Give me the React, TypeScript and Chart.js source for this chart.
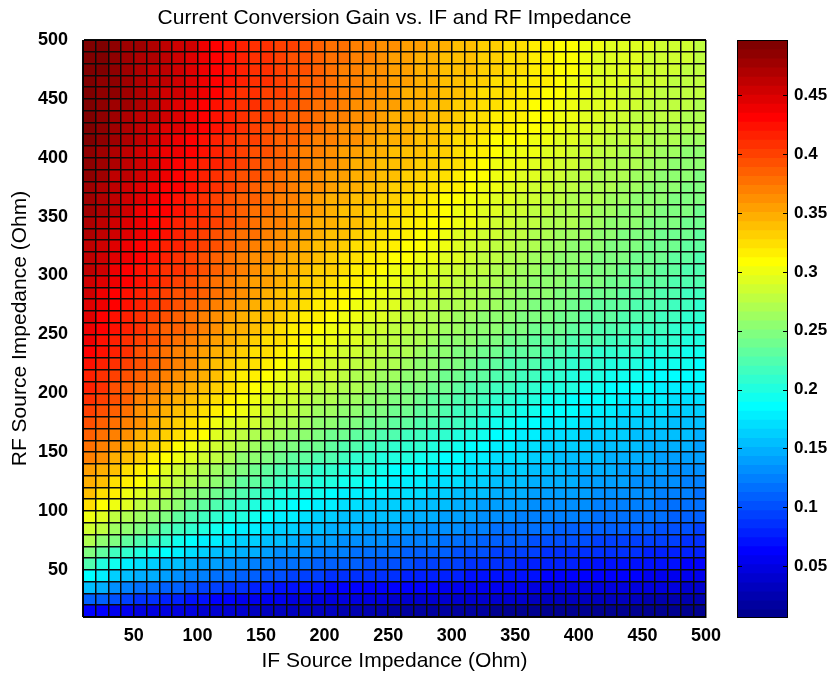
import React, { useEffect, useRef } from "react";
import { Chart, registerables } from "chart.js";

Chart.register(...registerables);

const titleText = "Current Conversion Gain vs. IF and RF Impedance";
const xTitle = "IF Source Impedance (Ohm)";
const yTitle = "RF Source Impedance (Ohm)";

// grid vertices (Ohm)
const ifOhm = [10,20,30,40,50,60,70,80,90,100,110,120,130,140,150,160,170,180,190,200,210,220,230,240,250,260,270,280,290,300,310,320,330,340,350,360,370,380,390,400,410,420,430,440,450,460,470,480,490,500];
const rfOhm = [10,20,30,40,50,60,70,80,90,100,110,120,130,140,150,160,170,180,190,200,210,220,230,240,250,260,270,280,290,300,310,320,330,340,350,360,370,380,390,400,410,420,430,440,450,460,470,480,490,500];
const xTickValues = [50,100,150,200,250,300,350,400,450,500];
const yTickValues = [50,100,150,200,250,300,350,400,450,500];
const colorbarTicks = [0.05,0.1,0.15,0.2,0.25,0.3,0.35,0.4,0.45];

// gain per RF row (bottom row first), one value per IF cell
const g00 = [0.063,0.060,0.058,0.055,0.052,0.050,0.049,0.047,0.045,0.043,0.041,0.039,0.037,0.036,0.036,0.035,0.034,0.033,0.031,0.030,0.028,0.026,0.025,0.023,0.021,0.020,0.019,0.018,0.017,0.016,0.015,0.014,0.013,0.013,0.012,0.012,0.011,0.011,0.011,0.010,0.010,0.010,0.009,0.009,0.008,0.008,0.007,0.007,0.006];
const g01 = [0.113,0.107,0.102,0.096,0.090,0.086,0.082,0.078,0.074,0.070,0.067,0.063,0.059,0.057,0.056,0.054,0.052,0.051,0.050,0.048,0.047,0.046,0.046,0.045,0.044,0.044,0.043,0.043,0.042,0.041,0.040,0.039,0.038,0.037,0.037,0.036,0.035,0.034,0.034,0.033,0.032,0.031,0.031,0.030,0.029,0.029,0.028,0.028,0.027];
const g02 = [0.157,0.145,0.136,0.128,0.121,0.116,0.111,0.106,0.101,0.097,0.094,0.090,0.086,0.082,0.078,0.075,0.071,0.069,0.068,0.066,0.064,0.064,0.063,0.063,0.062,0.061,0.061,0.060,0.059,0.058,0.057,0.056,0.055,0.054,0.053,0.052,0.051,0.050,0.050,0.049,0.048,0.048,0.047,0.047,0.046,0.045,0.045,0.044,0.043];
const g03 = [0.190,0.175,0.166,0.158,0.151,0.145,0.139,0.133,0.127,0.123,0.119,0.115,0.111,0.107,0.104,0.100,0.096,0.094,0.092,0.090,0.088,0.087,0.086,0.084,0.083,0.082,0.081,0.079,0.078,0.077,0.075,0.074,0.072,0.071,0.069,0.068,0.066,0.065,0.064,0.063,0.062,0.061,0.061,0.060,0.059,0.058,0.057,0.056,0.055];
const g04 = [0.221,0.205,0.192,0.181,0.172,0.165,0.158,0.153,0.148,0.144,0.140,0.136,0.132,0.128,0.125,0.121,0.117,0.115,0.113,0.111,0.109,0.107,0.105,0.103,0.101,0.099,0.097,0.096,0.094,0.092,0.090,0.088,0.086,0.084,0.082,0.080,0.078,0.077,0.076,0.075,0.074,0.073,0.072,0.071,0.070,0.069,0.068,0.067,0.066];
const g05 = [0.249,0.232,0.218,0.208,0.200,0.194,0.186,0.177,0.168,0.163,0.158,0.154,0.149,0.145,0.140,0.136,0.132,0.130,0.127,0.125,0.122,0.120,0.118,0.116,0.114,0.112,0.111,0.109,0.107,0.105,0.103,0.100,0.098,0.096,0.094,0.092,0.090,0.089,0.088,0.087,0.086,0.085,0.084,0.083,0.082,0.081,0.080,0.078,0.077];
const g06 = [0.270,0.257,0.246,0.235,0.225,0.215,0.206,0.197,0.188,0.182,0.177,0.171,0.166,0.161,0.156,0.152,0.147,0.144,0.141,0.138,0.135,0.133,0.131,0.129,0.127,0.125,0.123,0.122,0.120,0.117,0.115,0.112,0.110,0.108,0.106,0.104,0.102,0.101,0.100,0.099,0.098,0.097,0.096,0.095,0.094,0.092,0.091,0.089,0.088];
const g07 = [0.288,0.276,0.265,0.255,0.246,0.237,0.228,0.218,0.209,0.202,0.196,0.189,0.182,0.177,0.172,0.166,0.161,0.158,0.154,0.151,0.147,0.145,0.144,0.142,0.140,0.138,0.136,0.134,0.132,0.129,0.127,0.124,0.121,0.119,0.118,0.116,0.114,0.113,0.112,0.111,0.110,0.109,0.108,0.107,0.106,0.104,0.102,0.100,0.098];
const g08 = [0.305,0.293,0.282,0.272,0.264,0.254,0.245,0.236,0.228,0.220,0.213,0.205,0.198,0.191,0.185,0.180,0.175,0.170,0.166,0.162,0.159,0.157,0.155,0.153,0.152,0.150,0.148,0.146,0.144,0.141,0.138,0.135,0.132,0.130,0.128,0.126,0.125,0.124,0.123,0.122,0.121,0.120,0.119,0.118,0.117,0.115,0.112,0.110,0.108];
const g09 = [0.324,0.312,0.301,0.290,0.280,0.271,0.261,0.252,0.242,0.234,0.227,0.219,0.211,0.205,0.199,0.193,0.187,0.183,0.179,0.175,0.171,0.169,0.167,0.165,0.163,0.161,0.158,0.156,0.153,0.150,0.147,0.144,0.141,0.139,0.137,0.135,0.133,0.132,0.131,0.129,0.128,0.127,0.126,0.124,0.123,0.121,0.118,0.116,0.114];
const g10 = [0.337,0.326,0.316,0.305,0.294,0.285,0.275,0.266,0.256,0.248,0.240,0.232,0.224,0.218,0.212,0.205,0.199,0.195,0.191,0.186,0.182,0.180,0.178,0.176,0.174,0.171,0.168,0.165,0.162,0.159,0.156,0.153,0.150,0.148,0.146,0.143,0.141,0.140,0.138,0.137,0.135,0.134,0.132,0.131,0.129,0.127,0.125,0.122,0.120];
const g11 = [0.348,0.338,0.327,0.317,0.306,0.297,0.287,0.278,0.268,0.260,0.252,0.244,0.236,0.230,0.223,0.217,0.210,0.206,0.202,0.198,0.194,0.191,0.188,0.185,0.182,0.179,0.177,0.174,0.171,0.168,0.165,0.162,0.159,0.156,0.154,0.151,0.148,0.146,0.145,0.143,0.141,0.139,0.138,0.136,0.134,0.132,0.130,0.128,0.126];
const g12 = [0.358,0.350,0.339,0.328,0.317,0.307,0.297,0.288,0.279,0.271,0.263,0.255,0.248,0.240,0.233,0.227,0.221,0.217,0.213,0.209,0.205,0.201,0.198,0.194,0.190,0.187,0.184,0.182,0.179,0.175,0.172,0.169,0.166,0.164,0.161,0.158,0.155,0.153,0.151,0.150,0.148,0.146,0.144,0.142,0.140,0.138,0.136,0.134,0.132];
const g13 = [0.369,0.359,0.349,0.339,0.329,0.320,0.310,0.301,0.292,0.284,0.276,0.267,0.259,0.253,0.246,0.240,0.233,0.229,0.225,0.221,0.217,0.213,0.209,0.205,0.201,0.198,0.195,0.192,0.189,0.185,0.182,0.178,0.174,0.171,0.168,0.164,0.161,0.159,0.157,0.155,0.153,0.151,0.150,0.148,0.146,0.144,0.142,0.140,0.138];
const g14 = [0.379,0.369,0.359,0.350,0.340,0.331,0.322,0.312,0.303,0.295,0.287,0.278,0.270,0.264,0.258,0.251,0.245,0.241,0.237,0.232,0.228,0.224,0.220,0.216,0.212,0.209,0.206,0.202,0.199,0.195,0.190,0.186,0.181,0.178,0.174,0.171,0.167,0.165,0.163,0.161,0.159,0.157,0.155,0.153,0.151,0.149,0.148,0.146,0.144];
const g15 = [0.387,0.378,0.369,0.359,0.350,0.341,0.332,0.323,0.314,0.306,0.297,0.289,0.280,0.274,0.268,0.262,0.256,0.252,0.248,0.243,0.239,0.235,0.231,0.227,0.223,0.220,0.216,0.213,0.209,0.204,0.199,0.193,0.188,0.184,0.181,0.177,0.173,0.171,0.169,0.167,0.165,0.163,0.161,0.159,0.157,0.155,0.154,0.152,0.150];
const g16 = [0.394,0.386,0.377,0.368,0.359,0.350,0.341,0.332,0.324,0.314,0.305,0.297,0.290,0.283,0.276,0.271,0.267,0.263,0.259,0.254,0.250,0.246,0.242,0.238,0.234,0.230,0.226,0.222,0.219,0.214,0.209,0.202,0.196,0.192,0.188,0.184,0.179,0.177,0.175,0.173,0.171,0.169,0.167,0.165,0.163,0.161,0.159,0.157,0.155];
const g17 = [0.401,0.392,0.383,0.375,0.366,0.357,0.348,0.340,0.331,0.323,0.315,0.306,0.298,0.292,0.286,0.281,0.275,0.271,0.266,0.262,0.257,0.253,0.249,0.245,0.241,0.237,0.233,0.229,0.225,0.220,0.214,0.209,0.203,0.199,0.195,0.191,0.187,0.185,0.183,0.180,0.178,0.176,0.174,0.172,0.170,0.168,0.166,0.164,0.162];
const g18 = [0.408,0.399,0.391,0.382,0.373,0.365,0.356,0.348,0.339,0.331,0.323,0.314,0.306,0.300,0.295,0.289,0.283,0.278,0.274,0.269,0.264,0.260,0.256,0.252,0.248,0.244,0.240,0.235,0.231,0.226,0.221,0.215,0.210,0.206,0.203,0.199,0.195,0.193,0.190,0.188,0.185,0.183,0.181,0.179,0.177,0.175,0.173,0.171,0.169];
const g19 = [0.414,0.406,0.397,0.389,0.380,0.372,0.363,0.355,0.346,0.338,0.330,0.321,0.313,0.307,0.302,0.296,0.290,0.285,0.281,0.276,0.271,0.267,0.263,0.259,0.255,0.251,0.246,0.242,0.237,0.232,0.227,0.222,0.217,0.214,0.210,0.207,0.203,0.200,0.198,0.195,0.192,0.190,0.188,0.186,0.184,0.182,0.180,0.178,0.176];
const g20 = [0.420,0.412,0.403,0.395,0.386,0.378,0.370,0.361,0.353,0.345,0.337,0.328,0.320,0.314,0.309,0.303,0.297,0.292,0.288,0.283,0.278,0.274,0.270,0.265,0.261,0.257,0.252,0.248,0.243,0.238,0.234,0.229,0.224,0.221,0.218,0.214,0.211,0.208,0.205,0.202,0.199,0.197,0.195,0.192,0.190,0.188,0.187,0.185,0.183];
const g21 = [0.426,0.417,0.408,0.400,0.391,0.383,0.375,0.367,0.359,0.351,0.343,0.335,0.327,0.321,0.316,0.310,0.304,0.299,0.294,0.289,0.284,0.280,0.276,0.271,0.267,0.263,0.258,0.254,0.249,0.245,0.240,0.236,0.231,0.228,0.225,0.221,0.218,0.215,0.212,0.209,0.206,0.204,0.202,0.199,0.197,0.195,0.193,0.191,0.189];
const g22 = [0.431,0.422,0.413,0.405,0.396,0.388,0.381,0.373,0.365,0.357,0.349,0.341,0.333,0.327,0.322,0.316,0.310,0.305,0.300,0.294,0.289,0.285,0.281,0.276,0.272,0.268,0.263,0.259,0.254,0.250,0.246,0.242,0.238,0.235,0.232,0.229,0.226,0.223,0.220,0.216,0.213,0.211,0.209,0.206,0.204,0.202,0.200,0.197,0.195];
const g23 = [0.436,0.427,0.418,0.410,0.401,0.393,0.386,0.378,0.370,0.362,0.355,0.347,0.339,0.333,0.327,0.321,0.315,0.310,0.305,0.299,0.294,0.290,0.285,0.281,0.276,0.272,0.268,0.263,0.259,0.256,0.252,0.249,0.245,0.242,0.239,0.236,0.233,0.230,0.227,0.224,0.221,0.219,0.216,0.214,0.211,0.208,0.206,0.203,0.200];
const g24 = [0.440,0.430,0.421,0.413,0.405,0.397,0.389,0.382,0.375,0.367,0.359,0.351,0.344,0.338,0.331,0.325,0.320,0.314,0.309,0.303,0.298,0.293,0.289,0.284,0.280,0.276,0.272,0.268,0.264,0.261,0.258,0.255,0.252,0.249,0.246,0.243,0.240,0.237,0.234,0.231,0.228,0.225,0.222,0.220,0.217,0.214,0.211,0.208,0.205];
const g25 = [0.444,0.435,0.427,0.418,0.409,0.402,0.395,0.387,0.380,0.372,0.365,0.357,0.349,0.343,0.337,0.331,0.325,0.320,0.314,0.309,0.303,0.299,0.294,0.290,0.285,0.281,0.277,0.273,0.269,0.266,0.263,0.259,0.256,0.253,0.250,0.247,0.244,0.241,0.238,0.235,0.232,0.229,0.227,0.224,0.221,0.218,0.215,0.212,0.209];
const g26 = [0.448,0.439,0.431,0.422,0.413,0.406,0.399,0.392,0.385,0.377,0.370,0.362,0.354,0.348,0.342,0.336,0.330,0.325,0.319,0.314,0.308,0.304,0.299,0.295,0.290,0.286,0.282,0.278,0.274,0.271,0.267,0.264,0.260,0.257,0.254,0.251,0.248,0.245,0.242,0.239,0.236,0.233,0.231,0.228,0.225,0.222,0.219,0.216,0.213];
const g27 = [0.452,0.443,0.435,0.426,0.417,0.410,0.404,0.397,0.390,0.382,0.375,0.367,0.359,0.353,0.347,0.341,0.335,0.330,0.324,0.319,0.313,0.309,0.304,0.300,0.295,0.291,0.287,0.283,0.279,0.275,0.272,0.268,0.264,0.261,0.258,0.255,0.252,0.249,0.246,0.243,0.240,0.237,0.235,0.232,0.229,0.226,0.223,0.220,0.217];
const g28 = [0.456,0.447,0.439,0.430,0.421,0.414,0.408,0.401,0.394,0.387,0.379,0.372,0.364,0.358,0.352,0.346,0.340,0.335,0.329,0.324,0.318,0.314,0.309,0.305,0.300,0.296,0.292,0.288,0.284,0.280,0.276,0.272,0.268,0.265,0.262,0.259,0.256,0.253,0.250,0.247,0.244,0.241,0.239,0.236,0.233,0.230,0.227,0.224,0.221];
const g29 = [0.459,0.451,0.442,0.434,0.425,0.418,0.412,0.405,0.398,0.391,0.383,0.376,0.368,0.362,0.357,0.351,0.345,0.340,0.334,0.329,0.323,0.319,0.314,0.310,0.305,0.301,0.297,0.293,0.289,0.285,0.281,0.276,0.272,0.269,0.266,0.262,0.259,0.256,0.253,0.250,0.247,0.245,0.242,0.240,0.237,0.234,0.231,0.228,0.225];
const g30 = [0.463,0.455,0.446,0.438,0.429,0.422,0.416,0.409,0.402,0.395,0.387,0.380,0.372,0.366,0.361,0.355,0.349,0.344,0.339,0.333,0.328,0.324,0.319,0.315,0.310,0.306,0.302,0.298,0.294,0.290,0.285,0.281,0.276,0.273,0.269,0.266,0.262,0.259,0.256,0.253,0.250,0.248,0.245,0.243,0.240,0.237,0.234,0.231,0.228];
const g31 = [0.466,0.458,0.449,0.441,0.432,0.426,0.419,0.413,0.406,0.399,0.391,0.384,0.376,0.370,0.365,0.359,0.353,0.348,0.343,0.337,0.332,0.328,0.324,0.319,0.315,0.311,0.307,0.302,0.298,0.294,0.289,0.285,0.280,0.276,0.273,0.269,0.265,0.262,0.259,0.256,0.253,0.251,0.248,0.246,0.243,0.240,0.237,0.234,0.231];
const g32 = [0.470,0.461,0.452,0.444,0.436,0.429,0.422,0.416,0.409,0.402,0.395,0.388,0.381,0.375,0.369,0.363,0.357,0.352,0.347,0.341,0.336,0.332,0.328,0.324,0.320,0.315,0.311,0.306,0.302,0.297,0.293,0.288,0.284,0.280,0.276,0.272,0.268,0.265,0.262,0.260,0.257,0.254,0.251,0.249,0.246,0.243,0.240,0.237,0.234];
const g33 = [0.473,0.465,0.456,0.448,0.439,0.432,0.426,0.419,0.412,0.405,0.398,0.390,0.383,0.378,0.372,0.367,0.361,0.356,0.351,0.345,0.340,0.336,0.332,0.328,0.324,0.320,0.315,0.311,0.306,0.302,0.298,0.293,0.289,0.285,0.281,0.276,0.272,0.269,0.267,0.264,0.261,0.258,0.256,0.253,0.250,0.247,0.244,0.241,0.238];
const g34 = [0.476,0.468,0.459,0.451,0.442,0.435,0.429,0.422,0.415,0.408,0.401,0.393,0.386,0.381,0.375,0.370,0.364,0.359,0.354,0.348,0.343,0.339,0.335,0.331,0.327,0.323,0.318,0.314,0.309,0.305,0.301,0.297,0.293,0.289,0.285,0.280,0.276,0.273,0.270,0.267,0.264,0.261,0.259,0.256,0.253,0.250,0.247,0.244,0.241];
const g35 = [0.478,0.470,0.462,0.453,0.445,0.438,0.432,0.425,0.418,0.411,0.404,0.396,0.389,0.384,0.378,0.373,0.367,0.362,0.357,0.351,0.346,0.342,0.338,0.334,0.330,0.326,0.321,0.317,0.312,0.308,0.304,0.300,0.296,0.292,0.288,0.284,0.280,0.277,0.274,0.270,0.267,0.264,0.262,0.259,0.256,0.253,0.250,0.247,0.244];
const g36 = [0.480,0.472,0.464,0.456,0.448,0.441,0.435,0.428,0.421,0.414,0.407,0.399,0.392,0.387,0.381,0.376,0.370,0.365,0.360,0.354,0.349,0.345,0.341,0.337,0.333,0.329,0.326,0.322,0.318,0.313,0.309,0.304,0.299,0.295,0.292,0.288,0.284,0.281,0.278,0.274,0.271,0.268,0.265,0.262,0.259,0.256,0.253,0.250,0.247];
const g37 = [0.482,0.474,0.466,0.459,0.451,0.444,0.438,0.431,0.424,0.417,0.410,0.402,0.395,0.390,0.384,0.379,0.373,0.368,0.363,0.357,0.352,0.348,0.344,0.340,0.336,0.333,0.329,0.326,0.322,0.317,0.312,0.307,0.302,0.298,0.295,0.291,0.287,0.284,0.281,0.277,0.274,0.271,0.268,0.265,0.262,0.259,0.256,0.253,0.250];
const g38 = [0.484,0.476,0.469,0.461,0.453,0.447,0.440,0.434,0.427,0.420,0.413,0.405,0.398,0.393,0.387,0.382,0.376,0.371,0.366,0.360,0.355,0.351,0.347,0.343,0.339,0.336,0.333,0.329,0.326,0.321,0.316,0.310,0.305,0.302,0.298,0.295,0.291,0.288,0.284,0.281,0.277,0.274,0.271,0.268,0.265,0.262,0.259,0.256,0.253];
const g39 = [0.486,0.479,0.471,0.464,0.456,0.450,0.443,0.437,0.430,0.423,0.415,0.408,0.400,0.395,0.390,0.384,0.379,0.374,0.369,0.363,0.358,0.354,0.350,0.346,0.342,0.339,0.336,0.332,0.329,0.324,0.319,0.313,0.308,0.305,0.301,0.298,0.294,0.291,0.287,0.284,0.280,0.277,0.274,0.271,0.268,0.265,0.262,0.259,0.256];
const g40 = [0.490,0.482,0.475,0.467,0.460,0.453,0.447,0.440,0.434,0.427,0.419,0.412,0.404,0.399,0.394,0.389,0.384,0.379,0.374,0.369,0.364,0.360,0.356,0.351,0.347,0.344,0.340,0.337,0.333,0.328,0.323,0.317,0.312,0.309,0.306,0.303,0.300,0.296,0.293,0.289,0.285,0.282,0.279,0.276,0.273,0.271,0.268,0.266,0.263];
const g41 = [0.491,0.484,0.477,0.470,0.463,0.457,0.450,0.444,0.437,0.430,0.422,0.415,0.407,0.402,0.397,0.392,0.387,0.382,0.377,0.371,0.366,0.362,0.358,0.353,0.349,0.346,0.342,0.339,0.335,0.330,0.326,0.321,0.316,0.313,0.310,0.306,0.303,0.299,0.296,0.292,0.288,0.285,0.282,0.279,0.276,0.274,0.272,0.269,0.267];
const g42 = [0.493,0.486,0.479,0.472,0.465,0.459,0.453,0.446,0.440,0.432,0.425,0.417,0.409,0.404,0.399,0.394,0.389,0.384,0.379,0.373,0.368,0.364,0.360,0.355,0.351,0.348,0.344,0.341,0.337,0.333,0.328,0.324,0.319,0.316,0.313,0.309,0.306,0.302,0.298,0.294,0.290,0.287,0.285,0.282,0.279,0.277,0.275,0.272,0.270];
const g43 = [0.494,0.487,0.481,0.474,0.467,0.461,0.455,0.449,0.443,0.435,0.427,0.419,0.411,0.406,0.401,0.396,0.391,0.386,0.381,0.375,0.370,0.366,0.362,0.357,0.353,0.350,0.346,0.343,0.339,0.335,0.331,0.326,0.322,0.319,0.316,0.312,0.309,0.305,0.301,0.296,0.292,0.290,0.287,0.285,0.282,0.280,0.278,0.275,0.273];
const g44 = [0.495,0.489,0.482,0.476,0.469,0.463,0.457,0.451,0.445,0.437,0.429,0.420,0.412,0.407,0.403,0.398,0.393,0.388,0.382,0.377,0.371,0.367,0.363,0.359,0.355,0.351,0.348,0.344,0.340,0.336,0.332,0.328,0.324,0.321,0.318,0.314,0.311,0.307,0.302,0.298,0.293,0.291,0.289,0.286,0.284,0.282,0.280,0.277,0.275];
const g45 = [0.495,0.489,0.483,0.477,0.471,0.465,0.459,0.453,0.447,0.439,0.431,0.422,0.414,0.409,0.405,0.400,0.395,0.389,0.384,0.378,0.372,0.368,0.364,0.360,0.356,0.352,0.349,0.345,0.341,0.338,0.334,0.331,0.327,0.324,0.320,0.317,0.313,0.309,0.304,0.300,0.295,0.293,0.291,0.288,0.286,0.284,0.282,0.280,0.278];
const g46 = [0.496,0.490,0.484,0.478,0.472,0.466,0.461,0.455,0.449,0.441,0.432,0.424,0.415,0.410,0.406,0.401,0.396,0.391,0.385,0.380,0.374,0.370,0.366,0.362,0.358,0.354,0.351,0.347,0.343,0.340,0.336,0.333,0.329,0.326,0.322,0.319,0.315,0.310,0.306,0.301,0.296,0.294,0.292,0.290,0.288,0.286,0.284,0.282,0.280];
const g47 = [0.497,0.491,0.485,0.479,0.473,0.467,0.462,0.456,0.450,0.442,0.433,0.425,0.416,0.411,0.407,0.402,0.397,0.392,0.386,0.381,0.375,0.371,0.367,0.362,0.358,0.354,0.351,0.347,0.343,0.340,0.337,0.333,0.330,0.327,0.323,0.320,0.316,0.311,0.307,0.302,0.297,0.295,0.293,0.291,0.289,0.287,0.285,0.283,0.281];
const g48 = [0.497,0.491,0.486,0.480,0.474,0.468,0.463,0.457,0.451,0.442,0.433,0.425,0.417,0.412,0.408,0.403,0.398,0.392,0.386,0.381,0.375,0.371,0.367,0.363,0.359,0.355,0.352,0.348,0.344,0.341,0.337,0.334,0.331,0.327,0.324,0.320,0.317,0.312,0.307,0.303,0.298,0.296,0.294,0.292,0.290,0.288,0.286,0.284,0.282];

const gainRows = [g00,g01,g02,g03,g04,g05,g06,g07,g08,g09,g10,g11,g12,g13,g14,g15,g16,g17,g18,g19,g20,g21,g22,g23,g24,g25,g26,g27,g28,g29,g30,g31,g32,g33,g34,g35,g36,g37,g38,g39,g40,g41,g42,g43,g44,g45,g46,g47,g48];

const FONT = "'Liberation Sans', Arial, Helvetica, sans-serif";

// MATLAB-style jet colormap
function jet(m: number): number[][] {
  const n = Math.ceil(m / 4);
  const u: number[] = [];
  for (let i = 1; i <= n; i++) u.push(i / n);
  for (let i = 1; i < n; i++) u.push(1);
  for (let i = n; i >= 1; i--) u.push(i / n);
  const off = Math.ceil(n / 2) - (m % 4 === 1 ? 1 : 0);
  const J = Array.from({ length: m }, () => [0, 0, 0]);
  for (let k = 0; k < u.length; k++) {
    const g = off + k + 1;
    const r = g + n;
    const b = g - n;
    if (g >= 1 && g <= m) J[g - 1][1] = u[k];
    if (r >= 1 && r <= m) J[r - 1][0] = u[k];
    if (b >= 1 && b <= m) J[b - 1][2] = u[k];
  }
  return J;
}

const rgb = (c: number[]) =>
  `rgb(${Math.round(c[0] * 255)},${Math.round(c[1] * 255)},${Math.round(c[2] * 255)})`;

const framePlugin = {
  id: "frame",
  afterDraw(chart: any) {
    const { ctx, chartArea } = chart;
    const { left, top, right, bottom } = chartArea;
    ctx.save();
    ctx.strokeStyle = "#000";
    ctx.lineWidth = 1;
    ctx.strokeRect(Math.round(left) + 0.5, Math.round(top) + 0.5, Math.round(right - left) - 1, Math.round(bottom - top) - 1);
    ctx.restore();
  },
};

const titlePlugin = {
  id: "plotTitle",
  afterDraw(chart: any) {
    const { ctx, chartArea } = chart;
    ctx.save();
    ctx.font = `normal 21px ${FONT}`;
    ctx.fillStyle = "#000";
    ctx.textAlign = "center";
    ctx.textBaseline = "middle";
    ctx.fillText(titleText, (chartArea.left + chartArea.right) / 2, chartArea.top - 22);
    ctx.restore();
  },
};

const cbTickPlugin = {
  id: "cbticks",
  afterDatasetsDraw(chart: any) {
    const { ctx, chartArea } = chart;
    const s = chart.scales.y;
    ctx.save();
    ctx.strokeStyle = "#000";
    ctx.lineWidth = 1;
    for (const v of colorbarTicks) {
      const y = Math.round(s.getPixelForValue(v)) + 0.5;
      ctx.beginPath();
      ctx.moveTo(chartArea.left, y);
      ctx.lineTo(chartArea.left + 5, y);
      ctx.moveTo(chartArea.right - 5, y);
      ctx.lineTo(chartArea.right, y);
      ctx.stroke();
    }
    ctx.restore();
  },
};

export default function App() {
  const mainRef = useRef<HTMLCanvasElement | null>(null);
  const cbRef = useRef<HTMLCanvasElement | null>(null);

  useEffect(() => {
    Chart.defaults.font.family = FONT;
    const flat = gainRows.flat();
    const vmin = Math.min(...flat);
    const vmax = Math.max(...flat);
    const cmap = jet(64);
    const toColor = (v: number) => {
      let k = Math.floor(((v - vmin) / (vmax - vmin)) * 64);
      if (k < 0) k = 0;
      if (k > 63) k = 63;
      return rgb(cmap[k]);
    };

    const datasets = gainRows.map((row, r) => ({
      label: `RF ${rfOhm[r]}`,
      data: row.map((v, i) => ({ x: (ifOhm[i] + ifOhm[i + 1]) / 2, y: [rfOhm[r], rfOhm[r + 1]], v })),
      backgroundColor: row.map(toColor),
      borderWidth: 0,
      borderSkipped: false,
      inflateAmount: 0.5,
    }));

    const edgeGrid = { display: true, drawOnChartArea: true, drawTicks: false, color: "#0a0a0a", lineWidth: 1.5, z: 1 };

    const main = new Chart(mainRef.current as HTMLCanvasElement, {
      type: "bar",
      data: { datasets } as any,
      options: {
        responsive: false,
        animation: false,
        events: [],
        layout: { padding: { left: 0, right: 124, top: 40, bottom: 0 } },
        datasets: { bar: { barPercentage: 1, categoryPercentage: 1, grouped: false } } as any,
        plugins: {
          legend: { display: false },
          tooltip: { enabled: false },
          title: { display: false },
        },
        scales: {
          x: {
            type: "linear",
            min: ifOhm[0],
            max: ifOhm[ifOhm.length - 1],
            offset: false,
            grid: { ...edgeGrid, offset: false },
            border: { display: true, color: "#000", width: 1, z: 1 },
            ticks: {
              color: "#000",
              font: { family: FONT, size: 18, weight: "bold" },
              padding: 8,
              maxRotation: 0,
              autoSkip: false,
              callback: (v: any) => (xTickValues.includes(v) ? String(v) : ""),
            },
            afterBuildTicks: (s: any) => {
              s.ticks = ifOhm.map((v) => ({ value: v }));
            },
            afterFit: (s: any) => {
              s.height = 57;
            },
            title: {
              display: true,
              text: xTitle,
              color: "#000",
              font: { family: FONT, size: 21, weight: "normal" },
              padding: { top: 0, bottom: 0 },
            },
          },
          y: {
            type: "linear",
            min: rfOhm[0],
            max: rfOhm[rfOhm.length - 1],
            grid: edgeGrid,
            border: { display: true, color: "#000", width: 1, z: 1 },
            ticks: {
              color: "#000",
              font: { family: FONT, size: 18, weight: "bold" },
              padding: 15,
              autoSkip: false,
              callback: (v: any) => (yTickValues.includes(v) ? String(v) : ""),
            },
            afterBuildTicks: (s: any) => {
              s.ticks = rfOhm.map((v) => ({ value: v }));
            },
            afterFit: (s: any) => {
              s.width = 83;
            },
            title: {
              display: true,
              text: yTitle,
              color: "#000",
              font: { family: FONT, size: 21, weight: "normal" },
              padding: { top: 8, bottom: 0 },
            },
          },
        },
      } as any,
      plugins: [framePlugin, titlePlugin],
    });

    const nLev = cmap.length;
    const levels = cmap.map((_, i) => i);
    const cb = new Chart(cbRef.current as HTMLCanvasElement, {
      type: "bar",
      data: {
        datasets: [
          {
            label: "colorbar",
            data: levels.map((i) => ({
              x: 0,
              y: [vmin + ((vmax - vmin) * i) / nLev, vmin + ((vmax - vmin) * (i + 1)) / nLev],
            })),
            backgroundColor: cmap.map(rgb),
            borderWidth: 0,
            borderSkipped: false,
            inflateAmount: 0.5,
          },
        ],
      } as any,
      options: {
        responsive: false,
        animation: false,
        events: [],
        layout: { padding: { left: 737, right: 0, top: 40, bottom: 56 } },
        datasets: { bar: { barPercentage: 1, categoryPercentage: 1, grouped: false } } as any,
        plugins: { legend: { display: false }, tooltip: { enabled: false }, title: { display: false } },
        scales: {
          x: { type: "linear", display: false, min: -0.5, max: 0.5, offset: false },
          y: {
            type: "linear",
            position: "right",
            min: vmin,
            max: vmax,
            grid: { display: false, drawTicks: false },
            border: { display: false },
            ticks: {
              color: "#000",
              font: { family: FONT, size: 17, weight: "bold" },
              padding: 6,
              autoSkip: false,
              callback: (v: any) => String(v),
            },
            afterBuildTicks: (s: any) => {
              s.ticks = colorbarTicks.map((v) => ({ value: v }));
            },
            afterFit: (s: any) => {
              s.width = 42;
            },
          },
        },
      } as any,
      plugins: [framePlugin, cbTickPlugin],
    });

    return () => {
      main.destroy();
      cb.destroy();
    };
  }, []);

  return (
    <div style={{ position: "fixed", left: 0, top: 0, width: 830, height: 674, background: "#fff" }}>
      <canvas ref={mainRef} width={830} height={674} style={{ position: "absolute", left: 0, top: 0 }} />
      <canvas ref={cbRef} width={830} height={674} style={{ position: "absolute", left: 0, top: 0 }} />
    </div>
  );
}
